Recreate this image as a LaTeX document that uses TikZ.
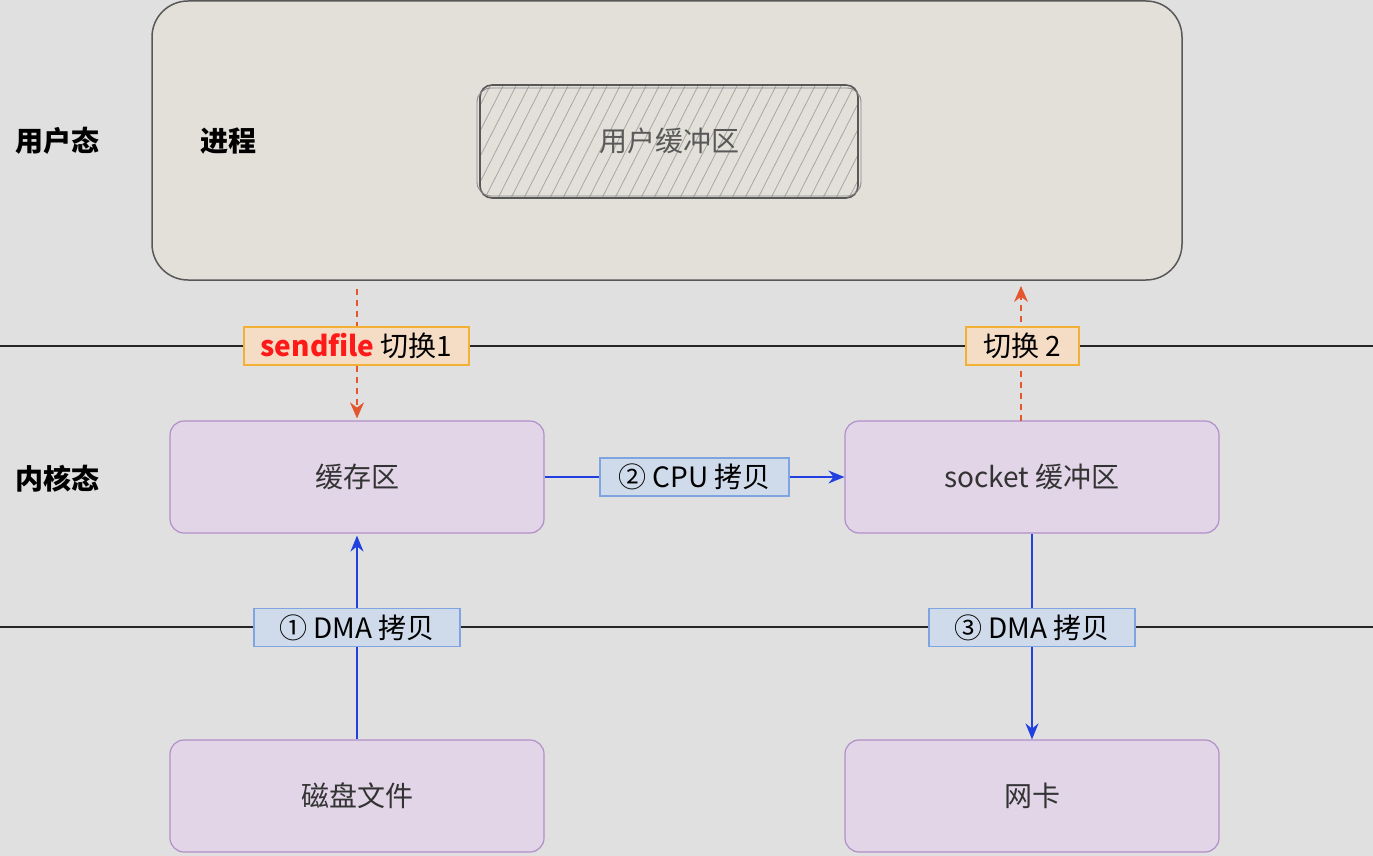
\documentclass[tikz,border=0pt]{standalone}
\usepackage{fontspec}
\setmainfont{Noto Sans CJK SC}
\usetikzlibrary{arrows.meta}
\definecolor{bgcol}{HTML}{E0E0E0}
\definecolor{procfill}{HTML}{E3E0DA}
\definecolor{procline}{HTML}{585858}
\definecolor{kfill}{HTML}{E1D5E7}
\definecolor{kline}{HTML}{B28FC8}
\definecolor{ofill}{HTML}{F5DCC5}
\definecolor{oline}{HTML}{F2B035}
\definecolor{oarrow}{HTML}{E4572E}
\definecolor{bfill}{HTML}{CFDBEB}
\definecolor{bline}{HTML}{7FA5E0}
\definecolor{barrow}{HTML}{2040E0}
\definecolor{sfred}{HTML}{FF1A1A}
\tikzset{
  txt/.style={font=\fontsize{28}{32}\selectfont},
  kbox/.style={txt, draw=kline, fill=kfill, line width=1.2pt, rounded corners=14pt,
    minimum width=374pt, minimum height=112pt, text=black!80},
  olabel/.style={txt, draw=oline, fill=ofill, line width=1.2pt, minimum height=38pt,
    inner xsep=8pt, inner ysep=0pt},
  blabel/.style={txt, draw=bline, fill=bfill, line width=1.2pt, minimum height=38pt,
    inner xsep=8pt, inner ysep=0pt},
  dasharrow/.style={oarrow, line width=1.2pt, dash pattern=on 6pt off 5pt,
    -{Stealth[length=16pt,width=14pt]}},
  blarrow/.style={barrow, line width=1.4pt, -{Stealth[length=16pt,width=13pt]}},
  sidelabel/.style={txt, font=\fontsize{28}{32}\selectfont\bfseries},
  divider/.style={black!85, line width=1.3pt},
}
\begin{document}
\begin{tikzpicture}[x=1pt,y=-1pt]
  \fill[bgcol] (0,0) rectangle (1373,856);
  \useasboundingbox (0,0) rectangle (1373,856);

  % user-space process frame
  \node[draw=procline, fill=procfill, line width=1.5pt, rounded corners=36pt,
        minimum width=1030pt, minimum height=279pt] (proc) at (667,140.5) {};

  % hatched user buffer
  \begin{scope}
    \clip[rounded corners=12pt] (480,85) rectangle (858,198);
    \foreach \i in {380,393,...,900}
      \draw[black!35, line width=0.8pt] (\i,200) -- (\i+60,82);
  \end{scope}
  \draw[procline, line width=1.6pt, rounded corners=12pt] (480,85) rectangle (858,198);
  \draw[procline!70, line width=0.9pt, rounded corners=14pt] (477,88) rectangle (861,196);
  \node[txt, text=black!65] (ubuf) at (669,141) {用户缓冲区};

  \node[sidelabel] (user) at (57,141) {用户态};
  \node[sidelabel] (procname) at (228,141) {进程};
  \node[sidelabel] (kernel) at (57,479) {内核态};

  % user/kernel and kernel/hardware boundaries
  \coordinate (l1a) at (0,346);
  \coordinate (l1b) at (1373,346);
  \coordinate (l2a) at (0,627);
  \coordinate (l2b) at (1373,627);
  \draw[divider] (l1a) -- (l1b);
  \draw[divider] (l2a) -- (l2b);

  % kernel and hardware boxes
  \node[kbox] (cache) at (357,477) {缓存区};
  \node[kbox] (sock) at (1032,477) {socket 缓冲区};
  \node[kbox] (disk) at (357,796) {磁盘文件};
  \node[kbox] (nic) at (1032,796) {网卡};

  % context switches
  \draw[dasharrow] (cache.north |- proc.south) ++(0,8) -- ([yshift=2pt]cache.north);
  \coordinate (sw2) at (1021,421);
  \coordinate (sw2top) at (1021,286);
  \draw[dasharrow] (sw2) -- (sw2top);

  % data copies
  \draw[blarrow] (disk.north) -- ([yshift=-2pt]cache.south);
  \draw[blarrow] (cache.east) -- (sock.west);
  \draw[blarrow] (sock.south) -- (nic.north);

  % step labels
  \node[olabel, minimum width=225pt] (lsend) at (356.5,346)
    {\textcolor{sfred}{\bfseries sendfile} 切换1};
  \node[olabel, minimum width=113pt] (lsw2) at (1022.5,346) {切换 2};
  \node[blabel, minimum width=189pt] (lcpu) at (694.5,477) {② CPU 拷贝};
  \node[blabel, minimum width=206pt] (ldma1) at (357,627.5) {① DMA 拷贝};
  \node[blabel, minimum width=206pt] (ldma3) at (1032,627.5) {③ DMA 拷贝};
\end{tikzpicture}
\end{document}
